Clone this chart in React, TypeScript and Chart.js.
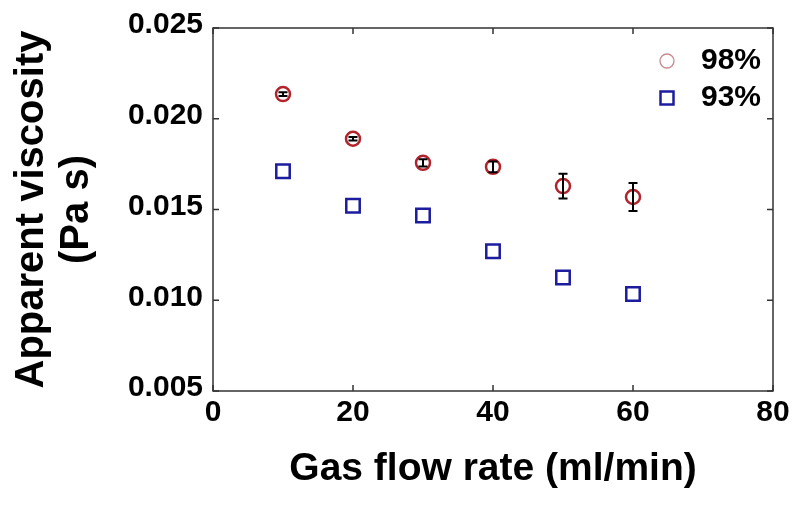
import React, { useEffect, useRef } from 'react';
import { Chart, registerables } from 'chart.js';

Chart.register(...registerables);

// ---- data ----
const flowRates = [10, 20, 30, 40, 50, 60];
const visc98 = [0.02136, 0.0189, 0.01757, 0.01735, 0.01629, 0.01569];
const err98 = [0.0001, 0.0001, 0.0002, 0.0003, 0.00068, 0.00077];
const visc93 = [0.01711, 0.01521, 0.01467, 0.0127, 0.01125, 0.01034];
const seriesLabels = ['98%', '93%'];
const xTickValues = [0, 20, 40, 60, 80];
const yTickValues = [0.005, 0.01, 0.015, 0.02, 0.025];
const xTitle = 'Gas flow rate (ml/min)';
const yTitle = ['Apparent viscosity', '(Pa s)'];

const FONT = "'Liberation Sans', Arial, Helvetica, sans-serif";
const RED = '#b3232b';
const BLUE = '#1c1c9e';

const errorBarPlugin = {
  id: 'errorBars',
  afterDatasetsDraw(chart: any) {
    const { ctx } = chart;
    const xs = chart.scales.x;
    const ys = chart.scales.y;
    ctx.save();
    ctx.strokeStyle = '#000';
    ctx.lineWidth = 2;
    flowRates.forEach((fx, i) => {
      const x = xs.getPixelForValue(fx);
      const yTop = ys.getPixelForValue(visc98[i] + err98[i]);
      const yBot = ys.getPixelForValue(visc98[i] - err98[i]);
      const cap = 4.5;
      ctx.beginPath();
      ctx.moveTo(x, yTop);
      ctx.lineTo(x, yBot);
      ctx.moveTo(x - cap, yTop);
      ctx.lineTo(x + cap, yTop);
      ctx.moveTo(x - cap, yBot);
      ctx.lineTo(x + cap, yBot);
      ctx.stroke();
    });
    ctx.restore();
  },
};

const framePlugin = {
  id: 'frame',
  afterDraw(chart: any) {
    const { ctx, chartArea: a } = chart;
    const xs = chart.scales.x;
    const ys = chart.scales.y;
    const tl = 6;
    ctx.save();
    ctx.strokeStyle = '#333';
    ctx.lineWidth = 1.5;
    ctx.strokeRect(a.left, a.top, a.right - a.left, a.bottom - a.top);
    ctx.beginPath();
    xTickValues.forEach((v) => {
      const x = xs.getPixelForValue(v);
      ctx.moveTo(x, a.bottom);
      ctx.lineTo(x, a.bottom - tl);
      ctx.moveTo(x, a.top);
      ctx.lineTo(x, a.top + tl);
    });
    yTickValues.forEach((v) => {
      const y = ys.getPixelForValue(v);
      ctx.moveTo(a.left, y);
      ctx.lineTo(a.left + tl, y);
      ctx.moveTo(a.right, y);
      ctx.lineTo(a.right - tl, y);
    });
    ctx.stroke();

    // legend
    const mx = a.right - 106;
    const tx = a.right - 72;
    const y1 = a.top + 33;
    const y2 = a.top + 70;
    ctx.strokeStyle = '#c98a8f';
    ctx.lineWidth = 1.3;
    ctx.beginPath();
    ctx.arc(mx, y1, 7, 0, Math.PI * 2);
    ctx.stroke();
    ctx.strokeStyle = BLUE;
    ctx.lineWidth = 2.5;
    ctx.strokeRect(mx - 6.5, y2 - 6.5, 13, 13);
    ctx.fillStyle = '#000';
    ctx.font = `bold 30px ${FONT}`;
    ctx.textAlign = 'left';
    ctx.textBaseline = 'middle';
    ctx.fillText(seriesLabels[0], tx, y1);
    ctx.fillText(seriesLabels[1], tx, y2);
    ctx.restore();
  },
};

export default function App() {
  const ref = useRef<HTMLCanvasElement>(null);

  useEffect(() => {
    if (!ref.current) return;
    const chart = new Chart(ref.current, {
      type: 'scatter',
      data: {
        datasets: [
          {
            label: seriesLabels[0],
            data: flowRates.map((x, i) => ({ x, y: visc98[i] })),
            pointStyle: 'circle',
            pointRadius: 7,
            pointBorderWidth: 2.5,
            borderColor: RED,
            backgroundColor: 'rgba(0,0,0,0)',
          },
          {
            label: seriesLabels[1],
            data: flowRates.map((x, i) => ({ x, y: visc93[i] })),
            pointStyle: 'rect',
            pointRadius: 9.5,
            pointBorderWidth: 2.5,
            borderColor: BLUE,
            backgroundColor: 'rgba(0,0,0,0)',
          },
        ],
      },
      options: {
        responsive: false,
        animation: false,
        devicePixelRatio: 1,
        layout: { padding: { left: 0, top: 25, right: 22, bottom: 0 } },
        plugins: {
          legend: { display: false },
          tooltip: { enabled: false },
        },
        scales: {
          x: {
            type: 'linear',
            min: 0,
            max: 80,
            afterBuildTicks: (scale: any) => {
              scale.ticks = xTickValues.map((v) => ({ value: v }));
            },
            afterFit: (scale: any) => {
              scale.height = 131;
            },
            grid: { display: false, drawTicks: false },
            border: { display: false },
            ticks: {
              padding: 4,
              color: '#000',
              font: { family: FONT, size: 30, weight: 'bold' },
              callback: (v: any) => String(v),
            },
            title: {
              display: true,
              text: xTitle,
              color: '#000',
              font: { family: FONT, size: 39, weight: 'bold' },
              padding: { top: 0, bottom: 29 },
            },
          },
          y: {
            type: 'linear',
            min: 0.005,
            max: 0.025,
            afterBuildTicks: (scale: any) => {
              scale.ticks = yTickValues.map((v) => ({ value: v }));
            },
            afterFit: (scale: any) => {
              scale.width = 213;
            },
            grid: { display: false, drawTicks: false },
            border: { display: false },
            ticks: {
              padding: 10,
              labelOffset: -3,
              color: '#000',
              font: { family: FONT, size: 30, weight: 'bold' },
              callback: (v: any) => Number(v).toFixed(3),
            },
            title: {
              display: true,
              text: yTitle,
              color: '#000',
              font: { family: FONT, size: 40, weight: 'bold', lineHeight: 1.125 },
              padding: { top: 9.5, bottom: 0 },
            },
          },
        },
      },
      plugins: [errorBarPlugin, framePlugin],
    } as any);
    return () => chart.destroy();
  }, []);

  return (
    <div style={{ position: 'fixed', left: 0, top: 0, width: 795, height: 522, background: '#fff' }}>
      <canvas ref={ref} width={795} height={522} style={{ display: 'block' }} />
    </div>
  );
}
